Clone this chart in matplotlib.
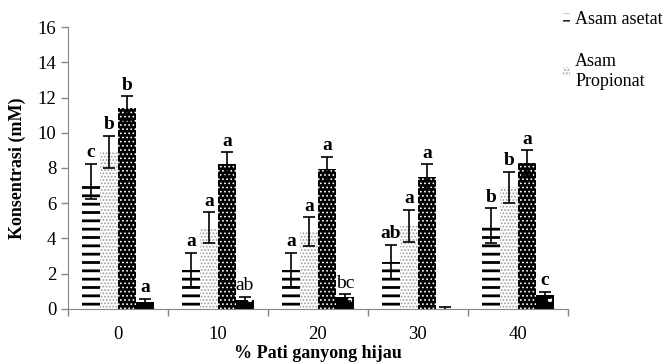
import numpy as np
import matplotlib
matplotlib.use("Agg")
import matplotlib.pyplot as plt
from matplotlib.patches import Patch

plt.rcParams['font.family'] = ['Liberation Serif', 'DejaVu Serif']

groups = ['0', '10', '20', '30', '40']
series_names = ['Asam asetat', 'Asam\nPropionat', 'Asam butirat', 'Asam valerat']

asetat = [7.25, 2.22, 2.2, 2.65, 4.73]
asetat_err = [1.0, 0.98, 0.97, 0.98, 0.97]
propionat = [8.9, 4.6, 4.37, 4.7, 6.9]
propionat_err = [0.9, 0.88, 0.82, 0.9, 0.88]
butirat = [11.4, 8.2, 7.95, 7.5, 8.3]
butirat_err = [0.66, 0.68, 0.7, 0.7, 0.7]
valerat = [0.4, 0.52, 0.65, 0.02, 0.8]
valerat_err = [0.17, 0.17, 0.18, 0.1, 0.18]

letters = [
    ['c', 'a', 'a', 'ab', 'b'],
    ['b', 'a', 'a', 'a', 'b'],
    ['b', 'a', 'a', 'a', 'a'],
    ['a', 'ab', 'bc', '', 'c'],
]

values = [asetat, propionat, butirat, valerat]
errors = [asetat_err, propionat_err, butirat_err, valerat_err]

# face, hatch colour, hatch, hatch linewidth
styles = [
    ('white', 'black', '--', 2.0),
    ('white', '#a0a0a0', '.....', 0.9),
    ('black', 'white', '....', 0.7),
    ('black', 'white', '.', 0.7),
]

fig = plt.figure(figsize=(6.68, 3.63), dpi=100)
ax = fig.add_axes([0.102, 0.149, 0.748, 0.7765])

x = np.arange(len(groups))
w = 0.18
offsets = (np.arange(4) - 1.5) * w

for i in range(4):
    face, hc, hatch, hlw = styles[i]
    with plt.rc_context({'hatch.linewidth': hlw, 'hatch.color': hc}):
        ax.bar(x + offsets[i], values[i], w, color=face, edgecolor=hc,
               hatch=hatch, linewidth=0)
    ax.errorbar(x + offsets[i], values[i], yerr=errors[i], fmt='none',
                ecolor='black', elinewidth=1.2, capsize=4, capthick=1.2)
    for j in range(len(groups)):
        if letters[i][j]:
            weight = 'normal' if letters[i][j] in ('ab', 'bc') and i == 3 else 'bold'
            ax.annotate(letters[i][j], (x[j] + offsets[i], values[i][j] + errors[i][j]),
                        xytext=(0, 2), textcoords='offset points',
                        ha='center', va='bottom', fontsize=14, fontweight=weight)

ax.set_xlim(-0.5, len(groups) - 0.5)
ax.set_ylim(0, 16)
ax.set_yticks(np.arange(0, 17, 2))
ax.set_xticks(x)
ax.set_xticklabels(groups)
ax.set_xticks(np.arange(-0.5, len(groups)), minor=True)
ax.tick_params(axis='x', which='major', length=0, pad=12, labelsize=13.5)
ax.tick_params(axis='x', which='minor', length=5, color='#868686', width=1)
ax.tick_params(axis='y', length=5, color='#868686', width=1, labelsize=13.5)

for s in ['top', 'right']:
    ax.spines[s].set_visible(False)
for s in ['left', 'bottom']:
    ax.spines[s].set_color('#868686')

ax.set_xlabel('% Pati ganyong hijau', fontsize=13, fontweight='bold', labelpad=2)
ax.set_ylabel('Konsentrasi (mM)', fontsize=13, fontweight='bold', labelpad=8)

handles = []
for i in range(2):
    face, hc, hatch, hlw = styles[i]
    with plt.rc_context({'hatch.linewidth': min(hlw, 1.2), 'hatch.color': hc}):
        handles.append(Patch(facecolor=face, edgecolor=hc, hatch=hatch, linewidth=0,
                             label=series_names[i]))
fig.legend(handles=handles, loc='upper left', bbox_to_anchor=(0.818, 1.015),
           frameon=False, fontsize=13, handlelength=0.4, handleheight=0.4,
           handletextpad=0.3, labelspacing=1.4)

fig.savefig('out.png', dpi=100)
